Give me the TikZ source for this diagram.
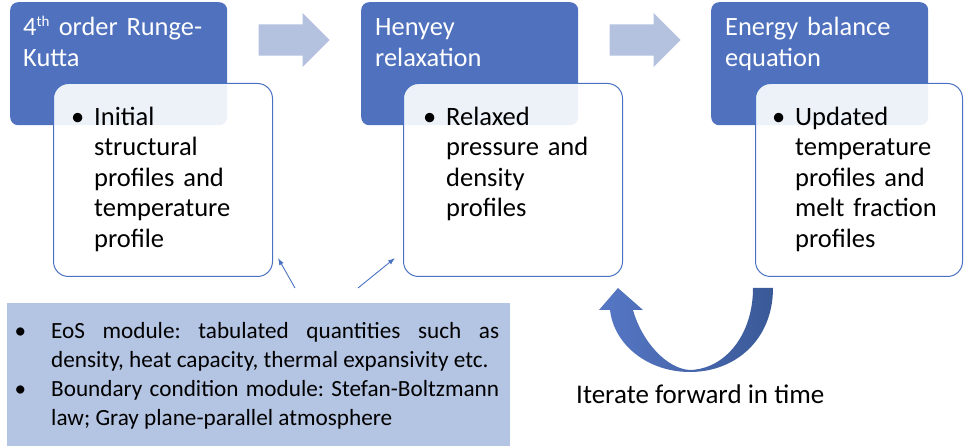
\documentclass[tikz,border=0pt]{standalone}
\usepackage{fontspec}
\setmainfont{Carlito}
\usetikzlibrary{arrows.meta,shapes.arrows}
\definecolor{hdrblue}{HTML}{4F71BE}
\definecolor{boxline}{HTML}{4A72C2}
\definecolor{arrblue}{HTML}{B4C1DF}
\definecolor{eosblue}{HTML}{B4C4E3}
\definecolor{curvl}{HTML}{5677C5}
\definecolor{curvr}{HTML}{3A5997}
\newcommand{\clrthin}{boxline}
\frenchspacing

\begin{document}
\begin{tikzpicture}[x=1pt,y=-1pt,
    hdr/.style={fill=hdrblue, rounded corners=8pt, minimum width=217pt, minimum height=123pt, inner sep=0pt, anchor=north west},
    body/.style={draw=boxline, line width=1pt, fill=white, fill opacity=0.9, rounded corners=15pt, minimum height=193pt, inner sep=0pt, anchor=north west},
    htext/.style={text=white, font=\fontsize{26.4}{31}\selectfont, text width=205pt, align=left, inner sep=0pt, anchor=north west},
    btext/.style={font=\fontsize{26.5}{30.5}\selectfont, text width=200pt, align=left, inner sep=0pt, anchor=north west},
    blockarr/.style={single arrow, fill=arrblue, minimum height=71pt, inner xsep=0pt, inner ysep=15.5pt, single arrow head extend=11.5pt, anchor=tip},
    thinarr/.style={draw=\clrthin, line width=0.9pt, -{Latex[length=7pt,width=5pt]}}
  ]
    \useasboundingbox (0,0) rectangle (964,446);

    % top row: headers
    \node[hdr] (h1) at (10,2) {};
    \node[hdr] (h2) at (361,2) {};
    \node[hdr] (h3) at (711,2) {};

    \node[htext] (h1t) at ([shift={(13,11.3)}]h1.north west) {\strut 4\textsuperscript{\fontsize{15}{15}\selectfont th} order Runge-\\Kutta};
    \node[htext] (h2t) at ([shift={(14,11.3)}]h2.north west) {\strut Henyey\\relaxation};
    \node[htext] (h3t) at ([shift={(14,11.3)}]h3.north west) {\strut Energy balance\\equation};

    % white boxes over the headers
    \node[body, minimum width=219pt] (b1) at (53,83) {};
    \node[body, minimum width=219pt] (b2) at (403,83) {};
    \node[body, minimum width=207pt] (b3) at (755,83) {};

    \node[btext] (b1t) at ([shift={(41,20.6)}]b1.north west) {\strut\llap{\textbullet\hspace{10pt}}Initial\\structural\\profiles and\\temperature\\profile};
    \node[btext] (b2t) at ([shift={(43,20.6)}]b2.north west) {\strut\llap{\textbullet\hspace{10pt}}Relaxed\\pressure and\\density\\profiles};
    \node[btext] (b3t) at ([shift={(40,20.6)}]b3.north west) {\strut\llap{\textbullet\hspace{10pt}}Updated\\temperature\\profiles and\\melt fraction\\profiles};

    % block arrows between the steps
    \node[blockarr] (a1) at (330,40) {};
    \node[blockarr] (a2) at (681,40) {};

    % modules box
    \node[fill=eosblue, minimum width=503pt, minimum height=150pt, inner sep=0pt, anchor=north west] (eos) at (7,303) {};
    \node[font=\fontsize{23.2}{29}\selectfont, text width=448pt, align=justify, inner sep=0pt, anchor=north west] (eost) at (51,317.7)
      {\strut\llap{\textbullet\hspace{25pt}}EoS module: tabulated quantities such as\linebreak density, heat capacity, thermal expansivity etc.\par
       \strut\llap{\textbullet\hspace{25pt}}Boundary condition module: Stefan-Boltzmann\linebreak law; Gray plane-parallel atmosphere};

    \coordinate (e1) at (295,288);
    \coordinate (t1) at (278,258);
    \coordinate (e2) at (358,288);
    \coordinate (t2) at (395,258);
    \draw[thinarr] (e1) -- (t1);
    \draw[thinarr] (e2) -- (t2);

    % loop arrow
    \shade[left color=curvl, right color=curvr]
      (773,288) .. controls (773,340) and (735,372) .. (690,372)
      .. controls (648,372) and (614,345) .. (610,310)
      -- (599,310) -- (618,288) -- (643,310) -- (633,310)
      .. controls (642,342) and (667,369) .. (690,370)
      .. controls (725,369) and (753,335) .. (753,288) -- cycle;

    \node[font=\fontsize{27}{32}\selectfont, inner sep=0pt, anchor=base west] (iter) at (576,403) {Iterate forward in time};

\end{tikzpicture}
\end{document}
